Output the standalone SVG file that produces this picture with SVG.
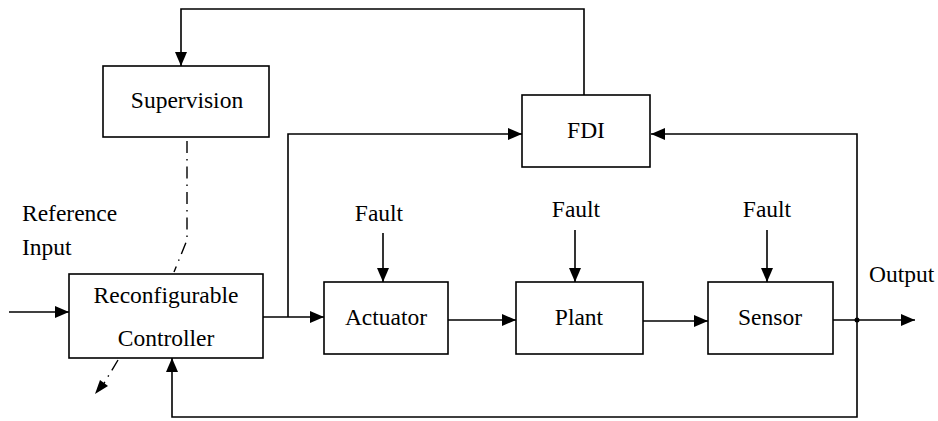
<svg xmlns="http://www.w3.org/2000/svg" width="938" height="421" viewBox="0 0 938 421">
<style>
.box{fill:#fff;stroke:#000;stroke-width:1.6}
text{font-family:"Liberation Serif","Tinos","Times New Roman","Noto Serif","DejaVu Serif",serif;font-size:23.5px;fill:#000}
.m{text-anchor:middle}
.ln{fill:none;stroke:#000;stroke-width:1.6}
.dd{fill:none;stroke:#000;stroke-width:1.4;stroke-dasharray:12 6 1.5 6}
</style>
<defs>
<marker id="ah" viewBox="0 0 14 12" refX="14" refY="6" markerWidth="14" markerHeight="12" markerUnits="userSpaceOnUse" orient="auto">
<path d="M0,0 L14,6 L0,12 Z" fill="#000"/>
</marker>
</defs>
<rect width="938" height="421" fill="#fff"/>
<g id="connectors">
<path class="ln" d="M584,95 V9 H181 V66" marker-end="url(#ah)"/>
<path class="dd" d="M187,141 V240 L174,272"/>
<path class="dd" d="M118,360 L100,390"/>
<path d="M95,394 L100,380 L108,386 Z" fill="#000"/>
<path class="ln" d="M9,312 H69" marker-end="url(#ah)"/>
<path class="ln" d="M263,317 H324" marker-end="url(#ah)"/>
<path class="ln" d="M288,317 V134 H522" marker-end="url(#ah)"/>
<path class="ln" d="M448,320 H516" marker-end="url(#ah)"/>
<path class="ln" d="M643,321 H708" marker-end="url(#ah)"/>
<path class="ln" d="M833,320 H915" marker-end="url(#ah)"/>
<path class="ln" d="M857,320 V134 H651" marker-end="url(#ah)"/>
<path class="ln" d="M857,320 V417 H172 V358" marker-end="url(#ah)"/>
<circle cx="857" cy="320" r="2.5" fill="#000"/>
<path class="ln" d="M383,233 V282" marker-end="url(#ah)"/>
<path class="ln" d="M575,230 V282" marker-end="url(#ah)"/>
<path class="ln" d="M767,230 V282" marker-end="url(#ah)"/>
</g>
<g id="supervision">
<rect class="box" x="103" y="66" width="166" height="71"/>
<text class="m" x="187" y="108">Supervision</text>
</g>
<g id="fdi">
<rect class="box" x="522" y="95" width="128" height="72"/>
<text class="m" x="586" y="138">FDI</text>
</g>
<g id="controller">
<rect class="box" x="69" y="274" width="194" height="84"/>
<text class="m" x="166" y="303">Reconfigurable</text>
<text class="m" x="166" y="346">Controller</text>
</g>
<g id="actuator">
<rect class="box" x="324" y="282" width="124" height="72"/>
<text class="m" x="386" y="325">Actuator</text>
</g>
<g id="plant">
<rect class="box" x="516" y="282" width="127" height="72"/>
<text class="m" x="579" y="325">Plant</text>
</g>
<g id="sensor">
<rect class="box" x="708" y="282" width="125" height="72"/>
<text class="m" x="770" y="325">Sensor</text>
</g>
<g id="labels">
<text x="22" y="221">Reference</text>
<text x="22" y="255">Input</text>
<text class="m" x="379" y="221">Fault</text>
<text class="m" x="576" y="217">Fault</text>
<text class="m" x="767" y="217">Fault</text>
<text x="869" y="282">Output</text>
</g>
</svg>
